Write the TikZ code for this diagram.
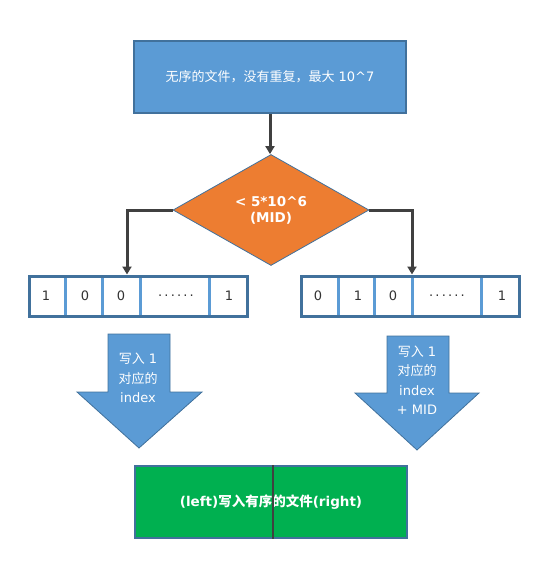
\documentclass[tikz,border=0pt]{standalone}
\usepackage{fontspec}
\setmainfont{DejaVu Sans}
\newfontfamily\cjk{Noto Sans CJK SC}
\usetikzlibrary{arrows.meta, shapes.geometric, positioning, calc}

\definecolor{boxblue}{HTML}{5B9BD5}
\definecolor{edgeblue}{HTML}{41719C}
\definecolor{midorange}{HTML}{ED7D31}
\definecolor{outgreen}{HTML}{00B050}
\definecolor{conngray}{HTML}{404040}

\tikzset{
    srcbox/.style={rectangle, fill=boxblue, draw=edgeblue, line width=2pt,
        minimum width=272pt, minimum height=72pt, text=white,
        font=\fontsize{13}{15}\selectfont},
    midbox/.style={diamond, fill=midorange, draw=edgeblue, line width=0.8pt,
        minimum width=196pt, minimum height=111pt, inner sep=0pt, aspect=1.77,
        text=white, align=center, font=\fontsize{13.5}{16}\selectfont\bfseries},
    bitarr/.style={rectangle, draw=edgeblue, line width=3pt,
        minimum width=218pt, minimum height=40pt},
    cellsep/.style={boxblue, line width=3pt},
    bit/.style={font=\fontsize{13}{15}\selectfont, text=black!80},
    conn/.style={conngray, line width=3pt, -{Triangle[length=8pt,width=9pt]}},
    blockarrow/.style={fill=boxblue, draw=edgeblue, line width=0.8pt},
    notetxt/.style={text=white, align=center, font=\fontsize{13}{19.5}\selectfont},
    outbox/.style={rectangle, fill=outgreen, draw=edgeblue, line width=2pt,
        minimum width=272pt, minimum height=72pt, text=white,
        font=\fontsize{13.5}{15}\selectfont\bfseries},
}

\begin{document}
\begin{tikzpicture}[x=1pt, y=-1pt]
    \useasboundingbox (0,0) rectangle (556,574);

    % unsorted input file
    \node[srcbox] (src) at (270,76.5) {{\cjk 无序的文件，没有重复，最大} 10\textasciicircum 7};

    % split on MID
    \node[midbox] (mid) at (271,210) {< 5*10\textasciicircum 6\\(MID)};

    % left bit array
    \foreach \d in {65,102,140,209}
        \draw[cellsep] (\d,277) -- (\d,315);
    \node[bitarr] (larr) at (138.5,296) {};
    \foreach \x/\v [count=\i] in {46/1, 85/0, 121/0, 176/{.\,.\,.\,.\,.\,.}, 229/1}
        \node[bit] (lb\i) at (\x,296) {\v};

    % right bit array
    \foreach \d in {338,374,412,481}
        \draw[cellsep] (\d,277) -- (\d,315);
    \node[bitarr] (rarr) at (410,296) {};
    \foreach \x/\v [count=\i] in {318/0, 358/1, 393/0, 447/{.\,.\,.\,.\,.\,.}, 502/1}
        \node[bit] (rb\i) at (\x,296) {\v};

    % connectors
    \draw[conn] (src.south) -- (src.south |- mid.north);
    \draw[conn] (mid.west) -| ([xshift=-11.5pt]larr.north);
    \draw[conn] (mid.east) -| ([xshift=2pt]rarr.north);

    % block arrows
    \draw[blockarrow] (108,334) -- (170,334) -- (170,392) -- (202,392)
        -- (139,448) -- (77,392) -- (108,392) -- cycle;
    \node[notetxt] (lnote) at (138,378) {{\cjk 写入} 1\\{\cjk 对应的}\\index};

    \draw[blockarrow] (387,336) -- (449,336) -- (449,393) -- (479,393)
        -- (417,450) -- (355,393) -- (387,393) -- cycle;
    \node[notetxt] (rnote) at (417,380) {{\cjk 写入} 1\\{\cjk 对应的}\\index\\+ MID};

    % sorted output file
    \node[outbox] (out) at (271,502) {(left){\cjk 写入有序的文件}(right)};
    \draw[conngray, line width=2.5pt] ([xshift=2pt]out.north) -- ([xshift=2pt]out.south);
\end{tikzpicture}
\end{document}
